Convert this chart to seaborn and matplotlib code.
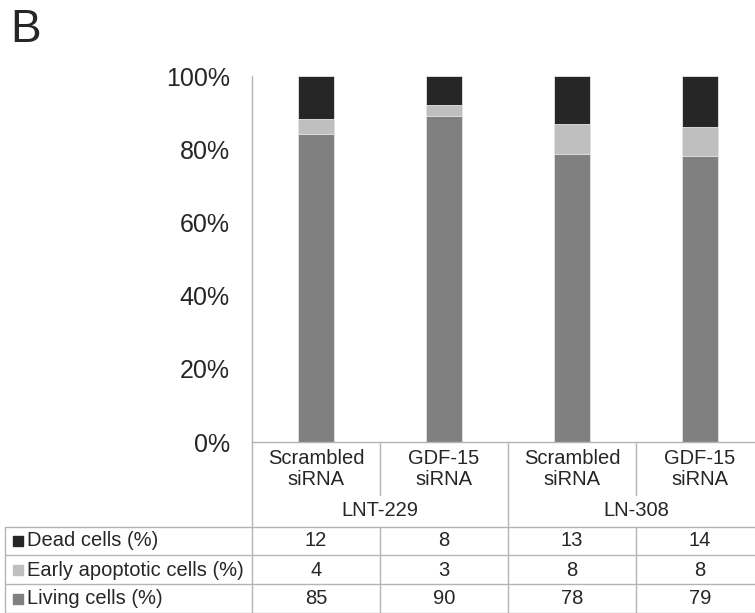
import matplotlib
matplotlib.use("Agg")
import matplotlib.pyplot as plt
from matplotlib.lines import Line2D
from matplotlib.transforms import blended_transform_factory
import pandas as pd
import seaborn as sns

# Cell fate after siRNA knockdown, per cell line
cell_lines = ["LNT-229", "LN-308"]
conditions = ["Scrambled\nsiRNA", "GDF-15\nsiRNA", "Scrambled\nsiRNA", "GDF-15\nsiRNA"]
dead = [12, 8, 13, 14]
early_apoptotic = [4, 3, 8, 8]
living = [85, 90, 78, 79]

series_names = ["Dead cells (%)", "Early apoptotic cells (%)", "Living cells (%)"]
series_values = [dead, early_apoptotic, living]
series_colors = ["#262626", "#bfbfbf", "#808080"]
grid_color = "#b4b4b4"

sns.set_style("white")
plt.rcParams["font.family"] = ["Liberation Sans", "DejaVu Sans"]

W, H = 755, 613
fig = plt.figure(figsize=(W / 100, H / 100), dpi=100)


def fy(py):
    return 1 - py / H


def fx(px):
    return px / W


ax = fig.add_axes([fx(252), fy(442), fx(512), 366 / H])

keys = [f"{cell_lines[i // 2]} | {c}" for i, c in enumerate(conditions)]
totals = [d + e + l for d, e, l in zip(dead, early_apoptotic, living)]
df = pd.DataFrame({
    "key": keys,
    "living": [l / t * 100 for l, t in zip(living, totals)],
    "early": [e / t * 100 for e, t in zip(early_apoptotic, totals)],
    "dead": [d / t * 100 for d, t in zip(dead, totals)],
})
df["top_living"] = df["living"]
df["top_early"] = df["living"] + df["early"]
df["top_dead"] = df["top_early"] + df["dead"]

# 100% stacked bars, drawn from the top layer down
for col, color in [("top_dead", series_colors[0]),
                   ("top_early", series_colors[1]),
                   ("top_living", series_colors[2])]:
    sns.barplot(data=df, x="key", y=col, order=keys, color=color,
                width=0.28, edgecolor="#e6e6e6", linewidth=0.6,
                saturation=1, ax=ax)

ax.set_xlim(-0.5, len(keys) - 0.5)
ax.set_ylim(0, 100)
ax.set_yticks([0, 20, 40, 60, 80, 100])
ax.set_yticklabels([f"{v}%" for v in [0, 20, 40, 60, 80, 100]], fontsize=18)
ax.tick_params(axis="y", length=0, pad=16)
ax.set_xticks([])
ax.set_xlabel("")
ax.set_ylabel("")
for side in ["top", "right"]:
    ax.spines[side].set_visible(False)
for side in ["left", "bottom"]:
    ax.spines[side].set_color(grid_color)
    ax.spines[side].set_linewidth(1.0)

# Category / data table below the axis
tr = blended_transform_factory(ax.transData, fig.transFigure)
lw = 1.0


def vline(x, y0, y1):
    fig.add_artist(Line2D([x, x], [fy(y0), fy(y1)], transform=tr,
                          color=grid_color, lw=lw))


def hline(py):
    fig.add_artist(Line2D([fx(5), 1.02], [fy(py), fy(py)],
                          transform=fig.transFigure, color=grid_color, lw=lw))


n = len(keys)
for i in range(n + 1):
    x = i - 0.5
    if i % 2 == 0:
        vline(x, 442, 614)
    else:
        vline(x, 442, 495)
        vline(x, 527, 614)
fig.add_artist(Line2D([fx(5), fx(5)], [fy(527), fy(614)],
                      transform=fig.transFigure, color=grid_color, lw=lw))
for py in [527, 555, 584, 612.5]:
    hline(py)

fs = 14.5
for i, c in enumerate(conditions):
    fig.text(i, fy(469), c, transform=tr, ha="center", va="center",
             fontsize=fs, linespacing=1.12)
for j, name in enumerate(cell_lines):
    fig.text(2 * j + 0.5, fy(511), name, transform=tr, ha="center",
             va="center", fontsize=fs)

row_y = [541, 570, 599]
for name, vals, color, py in zip(series_names, series_values, series_colors, row_y):
    fig.add_artist(Line2D([fx(18)], [fy(py)], transform=fig.transFigure,
                          marker="s", markersize=7, color=color, lw=0))
    fig.text(fx(27), fy(py), name, ha="left", va="center", fontsize=fs)
    for i, v in enumerate(vals):
        fig.text(i, fy(py), str(v), transform=tr, ha="center", va="center",
                 fontsize=fs)

fig.text(fx(10), fy(8), "B", ha="left", va="top", fontsize=33)

fig.savefig("out.png", dpi=100)
